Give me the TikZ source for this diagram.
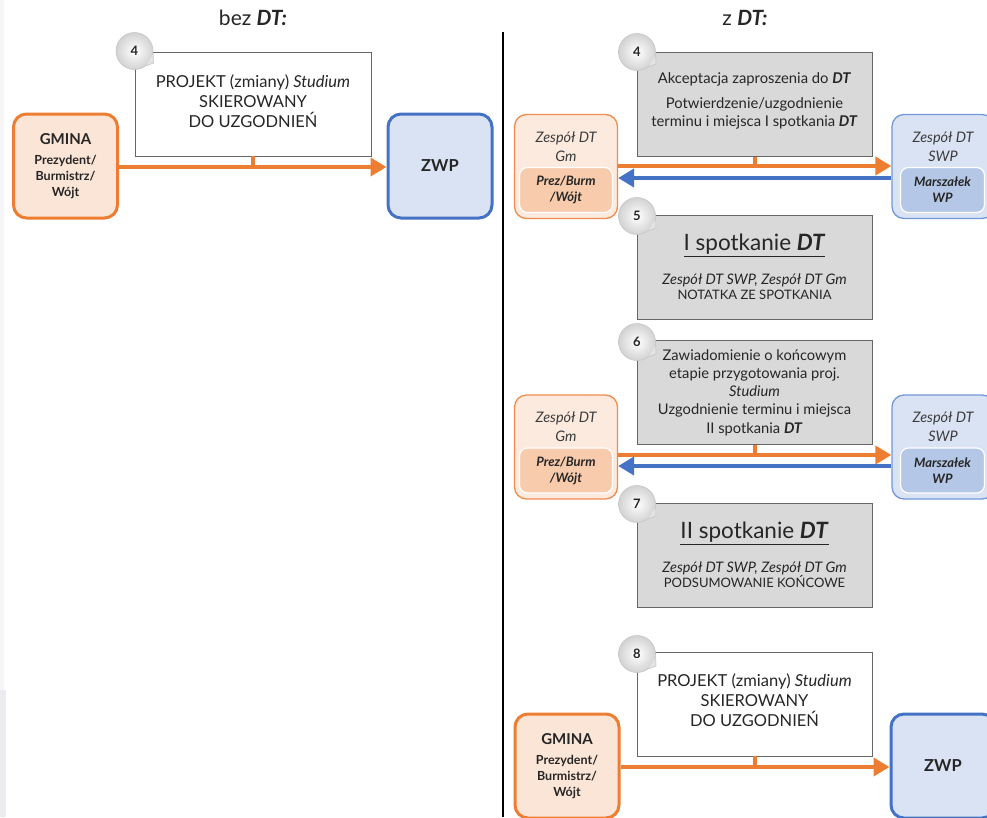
\documentclass[tikz,border=0pt]{standalone}
\usepackage{fontspec}
\setmainfont{Lato}
\usetikzlibrary{arrows.meta}
\definecolor{orA}{HTML}{ED7D31}
\definecolor{orB}{HTML}{F08C4C}
\definecolor{orFill}{HTML}{FBE5D6}
\definecolor{orInner}{HTML}{F8CBAD}
\definecolor{blA}{HTML}{4472C4}
\definecolor{blB}{HTML}{7398DA}
\definecolor{blFill}{HTML}{DAE3F3}
\definecolor{blInner}{HTML}{B4C7E7}
\definecolor{grFill}{HTML}{D9D9D9}
\definecolor{txt}{HTML}{262626}
\definecolor{edgeA}{HTML}{F6F6F8}
\definecolor{edgeB}{HTML}{ECECF0}
\newcommand\myfs[2]{\fontsize{#1}{#2}\selectfont}
\tikzset{
  bigor/.style={draw=orA, line width=3pt, fill=orFill, rounded corners=13pt, minimum width=104pt, minimum height=104pt, inner sep=0pt, align=center, text=txt},
  bigbl/.style={draw=blA, line width=3pt, fill=blFill, rounded corners=13pt, minimum width=104pt, minimum height=104pt, inner sep=0pt, align=center, text=txt},
  teamor/.style={draw=orB, line width=1.3pt, fill=orFill!80, rounded corners=12pt, minimum width=103pt, minimum height=104pt, inner sep=0pt},
  teambl/.style={draw=blB, line width=1.3pt, fill=blFill, rounded corners=12pt, minimum width=102pt, minimum height=104pt, inner sep=0pt},
  innor/.style={draw=white, line width=1.2pt, fill=orInner, rounded corners=8pt, minimum width=93pt, minimum height=45pt, inner sep=0pt, align=center, font=\bfseries\itshape\myfs{13}{16}, text=txt},
  innbl/.style={draw=white, line width=1.2pt, fill=blInner, rounded corners=8pt, minimum width=84pt, minimum height=45pt, inner sep=0pt, align=center, font=\bfseries\itshape\myfs{13}{16}, text=txt},
  teamtxt/.style={align=center, font=\itshape\myfs{14.5}{19}, text=txt!90, inner sep=0pt},
  whitebox/.style={draw=gray!80!black, line width=0.8pt, fill=white, minimum width=235pt, minimum height=104pt, inner sep=0pt},
  graybox/.style={draw=gray!80!black, line width=0.8pt, fill=grFill, minimum width=235pt, minimum height=104pt, inner sep=0pt, align=center, text=txt},
  boxtext/.style={align=center, text=txt, inner sep=0pt},
  bubble/.style={circle, draw=gray!45, line width=0.6pt, inner color=white, outer color=gray!35, minimum size=37pt, inner sep=0pt, font=\bfseries\myfs{13}{15}, text=txt},
  tail/.style={fill=gray!22, draw=gray!45, line width=0.6pt},
  orarrow/.style={draw=orA, line width=4pt, -{Triangle[length=16pt,width=18pt]}},
  blarrow/.style={draw=blA, line width=4pt, -{Triangle[length=16pt,width=18pt]}},
  stub/.style={draw=orA, line width=4pt},
  title/.style={font=\myfs{21}{25}, text=txt},
  projfont/.style={font=\myfs{16.5}{20}},
  gmfont/.style={font=\bfseries\myfs{12.5}{16}},
  zwpfont/.style={font=\bfseries\myfs{16.5}{20}},
  meetfont/.style={font=\myfs{13}{15.5}}
}
\begin{document}
\begin{tikzpicture}[x=1pt,y=-1pt]
\useasboundingbox (0,0) rectangle (987,817);
\fill[white] (0,0) rectangle (987,817);
\fill[edgeA] (0,0) rectangle (4,690);
\fill[edgeB] (0,690) rectangle (6,817);

% titles and divider
\node[title] (tl) at (253,18) {bez \textbf{\textit{DT:}}};
\node[title] (tr) at (745,18) {z \textbf{\textit{DT:}}};
\coordinate (divtop) at (503,32);
\coordinate (divbot) at (503,817);
\draw[line width=1.2pt, black] (divtop) -- (divbot);

% ---------- left: bez DT ----------
\node[whitebox, minimum width=236pt] (pl) at (253,104) {};
\node[boxtext, projfont] (plt) at (253,101) {PROJEKT (zmiany) \textit{Studium}\\SKIEROWANY\\DO UZGODNIEŃ};
\node[bigor, gmfont] (gl) at (65.5,166) {{\myfs{15}{17}GMINA}\\[4pt]Prezydent/\\Burmistrz/\\Wójt};
\node[bigbl, zwpfont] (zl) at (440,166) {ZWP};
\coordinate (al) at (0,167);
\draw[stub] (pl.south) -- (pl.south |- al);
\draw[orarrow] (gl.east |- al) -- (zl.west |- al);
\node[bubble] (b4l) at (134.5,51) {4};
\draw[tail] (b4l.-8) -- ([shift={(19,12)}]b4l.center) -- (b4l.-52);

% ---------- right: z DT ----------
% step 4
\node[graybox] (s4) at (754.5,104.5) {};
\node[boxtext, font=\myfs{14.8}{18}] (s4t) at (754.5,100.5) {Akceptacja zaproszenia do \textbf{\textit{DT}}\\[7pt]Potwierdzenie/uzgodnienie\\terminu i miejsca I spotkania \textbf{\textit{DT}}};
\node[teamor] (tg1) at (566,166.5) {};
\node[teamtxt] (tg1t) at (566,147) {Zespół DT\\Gm};
\node[innor] (ig1) at (566,190) {Prez/Burm\\/Wójt};
\node[teambl] (ts1) at (943,166.5) {};
\node[teamtxt] (ts1t) at (943,147) {Zespół DT\\SWP};
\node[innbl] (is1) at (942.5,190) {Marszałek\\WP};
\coordinate (a4o) at (0,166);
\coordinate (a4b) at (0,178);
\draw[stub] (s4.south) -- (s4.south |- a4o);
\draw[orarrow] (tg1.east |- a4o) -- (ts1.west |- a4o);
\draw[blarrow] (ts1.west |- a4b) -- (tg1.east |- a4b);
\node[bubble] (b4r) at (637,52) {4};
\draw[tail] (b4r.-8) -- ([shift={(19,12)}]b4r.center) -- (b4r.-52);

% step 5
\node[graybox, meetfont] (s5) at (754.5,267) {{\myfs{22.5}{26}\underline{I spotkanie \textbf{\textit{DT}}}}\\[16pt]{\myfs{14.5}{16}\textit{Zespół DT SWP, Zespół DT Gm}}\\NOTATKA ZE SPOTKANIA};
\node[bubble] (b5) at (637,216) {5};
\draw[tail] (b5.-8) -- ([shift={(19,12)}]b5.center) -- (b5.-52);

% step 6
\node[graybox, font=\myfs{14.7}{18.3}] (s6) at (754.5,392.5) {Zawiadomienie o końcowym\\etapie przygotowania proj.\\\textit{Studium}\\Uzgodnienie terminu i miejsca\\II spotkania \textbf{\textit{DT}}};
\node[teamor] (tg2) at (566,447) {};
\node[teamtxt] (tg2t) at (566,427) {Zespół DT\\Gm};
\node[innor] (ig2) at (566,470.5) {Prez/Burm\\/Wójt};
\node[teambl] (ts2) at (943,447) {};
\node[teamtxt] (ts2t) at (943,427) {Zespół DT\\SWP};
\node[innbl] (is2) at (942.5,470.5) {Marszałek\\WP};
\coordinate (a6o) at (0,455);
\coordinate (a6b) at (0,466);
\draw[stub] (s6.south) -- (s6.south |- a6o);
\draw[orarrow] (tg2.east |- a6o) -- (ts2.west |- a6o);
\draw[blarrow] (ts2.west |- a6b) -- (tg2.east |- a6b);
\node[bubble] (b6) at (637,342) {6};
\draw[tail] (b6.-8) -- ([shift={(19,12)}]b6.center) -- (b6.-52);

% step 7
\node[graybox, meetfont] (s7) at (754.5,555) {{\myfs{22.5}{26}\underline{II spotkanie \textbf{\textit{DT}}}}\\[16pt]{\myfs{14.5}{16}\textit{Zespół DT SWP, Zespół DT Gm}}\\PODSUMOWANIE KOŃCOWE};
\node[bubble] (b7) at (637,504) {7};
\draw[tail] (b7.-8) -- ([shift={(19,12)}]b7.center) -- (b7.-52);

% step 8
\node[whitebox] (s8) at (754.5,704) {};
\node[boxtext, projfont] (s8t) at (754.5,700) {PROJEKT (zmiany) \textit{Studium}\\SKIEROWANY\\DO UZGODNIEŃ};
\node[bigor, gmfont] (g2) at (567,766) {{\myfs{15}{17}GMINA}\\[4pt]Prezydent/\\Burmistrz/\\Wójt};
\node[bigbl, zwpfont] (z2) at (943,766) {ZWP};
\coordinate (a8) at (0,767);
\draw[stub] (s8.south) -- (s8.south |- a8);
\draw[orarrow] (g2.east |- a8) -- (z2.west |- a8);
\node[bubble] (b8) at (637,654) {8};
\draw[tail] (b8.-8) -- ([shift={(19,12)}]b8.center) -- (b8.-52);
\end{tikzpicture}
\end{document}
